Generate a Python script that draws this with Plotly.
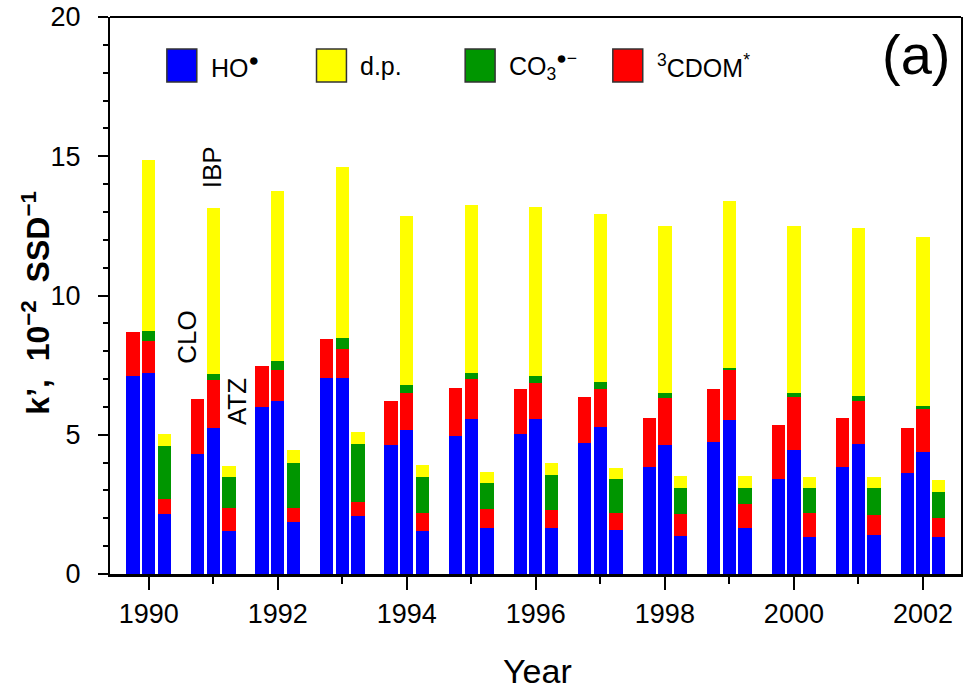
import plotly.graph_objects as go

# Sampling years
years = list(range(1990, 2003))
year_ticks = [1990, 1992, 1994, 1996, 1998, 2000, 2002]

# Pseudo-first-order degradation rate constants (10^-2 SSD^-1), split by pathway
# CLO: only HO* and 3CDOM* contribute
clo_ho = [7.12, 4.32, 6.01, 7.04, 4.62, 4.97, 5.03, 4.72, 3.83, 4.73, 3.41, 3.85, 3.61]
clo_cdom = [1.56, 1.96, 1.46, 1.40, 1.58, 1.71, 1.62, 1.62, 1.76, 1.91, 1.95, 1.74, 1.64]

# IBP
ibp_ho = [7.22, 5.25, 6.22, 7.03, 5.18, 5.57, 5.55, 5.28, 4.64, 5.53, 4.46, 4.66, 4.37]
ibp_cdom = [1.15, 1.73, 1.10, 1.04, 1.33, 1.44, 1.32, 1.37, 1.69, 1.82, 1.88, 1.54, 1.54]
ibp_co3 = [0.37, 0.19, 0.33, 0.42, 0.29, 0.20, 0.25, 0.24, 0.17, 0.05, 0.17, 0.19, 0.13]
ibp_dp = [6.13, 5.98, 6.10, 6.14, 6.04, 6.04, 6.07, 6.05, 6.00, 5.98, 5.99, 6.04, 6.06]

# ATZ
atz_ho = [2.17, 1.56, 1.87, 2.09, 1.54, 1.66, 1.64, 1.59, 1.38, 1.64, 1.34, 1.39, 1.32]
atz_cdom = [0.52, 0.82, 0.51, 0.48, 0.64, 0.69, 0.65, 0.61, 0.77, 0.86, 0.86, 0.72, 0.69]
atz_co3 = [1.91, 1.10, 1.61, 2.10, 1.30, 0.92, 1.28, 1.20, 0.95, 0.60, 0.88, 0.98, 0.95]
atz_dp = [0.43, 0.41, 0.45, 0.44, 0.43, 0.40, 0.42, 0.42, 0.41, 0.42, 0.40, 0.40, 0.40]

# Horizontal offset (in years) of each compound's bar within a year group
OFFSET = 0.243
BAR_W = 0.206

BLUE = "#0000ff"
YELLOW = "#ffff00"
GREEN = "#009600"
RED = "#ff0000"

FONT = "Liberation Sans, Arial, Helvetica, sans-serif"

x_clo = [y - OFFSET for y in years]
x_ibp = [float(y) for y in years]
x_atz = [y + OFFSET for y in years]

fig = go.Figure()


def add_layer(xs, ys, color):
    fig.add_trace(go.Bar(
        x=xs, y=ys, width=BAR_W,
        marker=dict(color=color, line=dict(width=0)),
        showlegend=False, hoverinfo="x+y",
    ))


# Stack order from bottom: HO*, 3CDOM*, CO3*-, direct photolysis
add_layer(x_clo + x_ibp + x_atz, clo_ho + ibp_ho + atz_ho, BLUE)
add_layer(x_clo + x_ibp + x_atz, clo_cdom + ibp_cdom + atz_cdom, RED)
add_layer(x_ibp + x_atz, ibp_co3 + atz_co3, GREEN)
add_layer(x_ibp + x_atz, ibp_dp + atz_dp, YELLOW)

# Plot-area geometry in pixels, used to place the hand-drawn legend
W, H = 965, 697
L, R, T, B = 110, 2, 16, 123
PW = W - L - R
PH = H - T - B


def px(xp):
    return (xp - L) / PW


def py(yp):
    return (H - B - yp) / PH


shapes = []
annotations = []

# Legend boxes and labels
legend_items = [
    (167, BLUE, "HO<sup>\u25cf</sup>"),
    (317, YELLOW, "d.p."),
    (466, GREEN, "CO<sub>3</sub><sup>\u25cf\u2212</sup>"),
    (614, RED, "<sup>3</sup>CDOM<sup>*</sup>"),
]
for x0, col, label in legend_items:
    shapes.append(dict(
        type="rect", xref="paper", yref="paper",
        x0=px(x0), x1=px(x0 + 30), y0=py(81), y1=py(48),
        fillcolor=col, line=dict(color="#333333", width=1.5), layer="above",
    ))
    annotations.append(dict(
        xref="paper", yref="paper", x=px(x0 + 42), y=py(65),
        xanchor="left", yanchor="middle", text=label, showarrow=False,
        font=dict(family=FONT, size=25, color="black"),
    ))

# Top border of the frame
shapes.append(dict(type="line", xref="paper", yref="paper", x0=0, x1=1, y0=1, y1=1,
                   line=dict(color="black", width=2)))

# Panel label
annotations.append(dict(
    xref="paper", yref="paper", x=px(918), y=py(54), xanchor="center", yanchor="middle",
    text="(a)", showarrow=False, font=dict(family=FONT, size=56, color="black"),
))

# Compound labels next to the 1990-1991 bars
for text, xv, yv in [("CLO", 1990.60, 8.5), ("IBP", 1990.98, 14.6), ("ATZ", 1991.38, 6.2)]:
    annotations.append(dict(
        x=xv, y=yv, xref="x", yref="y", text=text, textangle=-90, showarrow=False,
        font=dict(family=FONT, size=26, color="black"),
    ))

# Axis titles
annotations.append(dict(
    xref="paper", yref="paper", x=px(36), y=py(302), textangle=-90,
    text="<b>k\u2019,  10<sup>\u22122</sup>  SSD<sup>\u22121</sup></b>",
    showarrow=False, xanchor="center", yanchor="middle",
    font=dict(family=FONT, size=32, color="black"),
))
annotations.append(dict(
    xref="paper", yref="paper", x=px(539), y=py(671), text="Year",
    showarrow=False, xanchor="center", yanchor="middle",
    font=dict(family=FONT, size=34, color="black"),
))

fig.update_layout(
    width=W, height=H,
    margin=dict(l=L, r=R, t=T, b=B, pad=0),
    paper_bgcolor="white", plot_bgcolor="white",
    barmode="stack", bargap=0,
    font=dict(family=FONT, color="black"),
    shapes=shapes, annotations=annotations,
    xaxis=dict(
        range=[1989.40, 2002.59], tickmode="array", tickvals=year_ticks,
        ticktext=[str(v) for v in year_ticks],
        ticks="outside", ticklen=13, tickwidth=1.5, tickcolor="black",
        minor=dict(tick0=1991, dtick=2, ticks="outside", ticklen=7, tickwidth=1.5,
                   tickcolor="black"),
        showline=True, linewidth=3, linecolor="black", showgrid=False, zeroline=False,
        tickfont=dict(family=FONT, size=27, color="black"),
        ticklabelstandoff=1,
    ),
    yaxis=dict(
        range=[0, 20], tickmode="array", tickvals=[0, 5, 10, 15, 20],
        ticks="outside", ticklen=10, tickwidth=1.5, tickcolor="black",
        minor=dict(tick0=0, dtick=1, ticks="outside", ticklen=5, tickwidth=1.5,
                   tickcolor="black"),
        showline=True, linewidth=2, linecolor="black", mirror=True,
        showgrid=False, zeroline=False,
        tickfont=dict(family=FONT, size=27, color="black"),
        ticklabelstandoff=12,
    ),
)

fig.write_html("out.html")
